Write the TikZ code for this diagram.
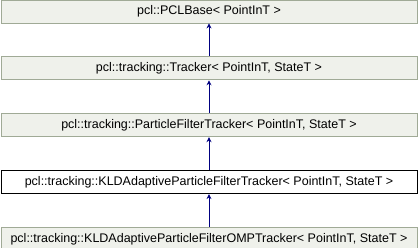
\documentclass[tikz,border=0pt]{standalone}
\usepackage{fontspec}
\setmainfont{Liberation Sans}
\usetikzlibrary{arrows.meta,positioning}
\definecolor{boxfill}{RGB}{239,241,235}
\definecolor{boxline}{RGB}{160,170,150}
\definecolor{edgeblue}{RGB}{0,0,128}

\begin{document}
\begin{tikzpicture}[x=1pt, y=1pt, >={Stealth[length=5pt,width=5pt]},
    classbox/.style={draw=boxline, fill=boxfill, line width=0.8pt,
        minimum width=416pt, minimum height=23pt, inner sep=0pt,
        font=\fontsize{12.5}{14}\selectfont},
    curbox/.style={classbox, draw=black, fill=white},
    inherit/.style={->, edgeblue, line width=0.8pt}]
    \useasboundingbox (0,0) rectangle (418,248);

    % Class hierarchy, base class on top
    \node[classbox] (base) at (209,236.5) {pcl::PCLBase< PointInT >};
    \node[classbox, below=33.1pt of base] (tracker) {pcl::tracking::Tracker< PointInT, StateT >};
    \node[classbox, below=33.1pt of tracker] (pft) {pcl::tracking::ParticleFilterTracker< PointInT, StateT >};
    \node[curbox, below=33.1pt of pft] (kld) {pcl::tracking::KLDAdaptiveParticleFilterTracker< PointInT, StateT >};
    \node[classbox, below=33.1pt of kld] (kldomp) {pcl::tracking::KLDAdaptiveParticleFilterOMPTracker< PointInT, StateT >};

    % Inheritance arrows
    \draw[inherit] (tracker) -- (base);
    \draw[inherit] (pft) -- (tracker);
    \draw[inherit] (kld) -- (pft);
    \draw[inherit] (kldomp) -- (kld);
\end{tikzpicture}
\end{document}
